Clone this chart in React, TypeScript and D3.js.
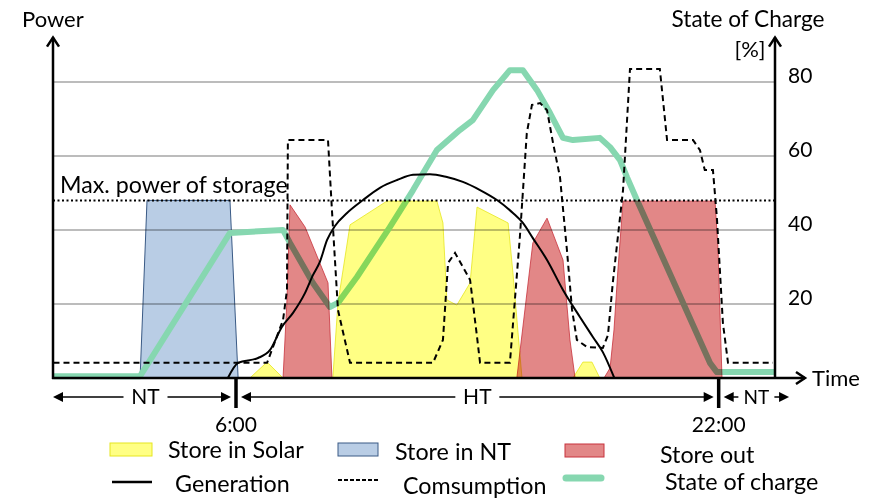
import React from "react";
import * as d3 from "d3";

// ---------- data (x = hour of day, y = power / state-of-charge in %) ----------
const timeTicks = [6, 22];
const timeTickLabels = ["6:00", "22:00"];
const socTicks = [20, 40, 60, 80];
const maxStoragePower = 48;

const periodLabels = ["NT", "HT", "NT"];
const periodStarts = [0, 6, 22];
const periodEnds = [6, 22, 24.5];

const generation: [number, number][] = [
  [5.73, 0], [6.07, 4.1], [6.73, 5.4], [7.13, 7.6], [7.52, 13.8], [7.89, 17.6],
  [8.29, 23.0], [8.55, 27.8], [8.78, 31.4], [9.02, 37.3], [9.28, 41.1], [9.68, 44.6],
  [10.21, 48.1], [10.77, 51.4], [11.34, 53.5], [11.87, 54.9], [12.43, 55.1], [12.99, 54.3],
  [13.52, 53.0], [14.09, 50.8], [14.65, 48.1], [15.18, 44.6], [15.51, 41.9], [15.84, 37.8],
  [16.31, 31.9], [16.84, 23.8], [17.4, 16.5], [17.83, 11.1], [18.16, 7.0], [18.54, 0],
];

const consumption: [number, number][] = [
  [-0.05, 4.1], [7.03, 4.1], [7.56, 15.7], [7.69, 23.8], [7.72, 64.3], [9.05, 64.3],
  [9.18, 45.4], [9.38, 18.4], [9.78, 4.1], [12.53, 4.1], [12.86, 10.3], [13.03, 31.1],
  [13.26, 33.8], [13.76, 26.5], [13.99, 11.1], [14.09, 4.1], [15.08, 4.1], [15.41, 38.1],
  [15.64, 66.2], [15.81, 73.8], [16.08, 74.3], [16.31, 72.4], [16.51, 63.5], [16.74, 54.3],
  [16.97, 34.6], [17.14, 18.4], [17.3, 10.3], [17.63, 8.4], [18.16, 8.1], [18.33, 11.6],
  [18.49, 25.7], [18.83, 50.8], [19.06, 83.5], [20.05, 83.5], [20.29, 64.3], [21.15, 64.3],
  [21.38, 61.6], [21.54, 56.2], [21.81, 56.2], [21.94, 43.5], [22.14, 14.9], [22.31, 4.1],
  [23.8, 4.1],
];

const stateOfCharge: [number, number][] = [
  [-0.05, 0.5], [2.82, 0.5], [5.8, 39.2], [7.56, 40], [7.79, 36.5], [8.55, 25.7],
  [9.11, 19.2], [9.38, 20.3], [10.01, 27.3], [11.1, 40.8], [11.87, 50.8], [12.66, 61.6],
  [13.42, 67.0], [13.85, 69.7], [14.52, 77.8], [15.08, 83.2], [15.51, 83.2], [15.98, 77.8],
  [16.41, 71.6], [16.84, 64.9], [17.17, 64.3], [18.06, 64.9], [18.4, 62.4], [18.73, 58.9],
  [18.96, 54.3], [19.29, 48.1], [21.71, 4.1], [21.94, 1.6], [23.9, 1.6],
];

const storeInNT: [number, number][] = [[2.82, 0], [3.05, 48], [5.8, 48], [6.07, 0]];

const storeInSolar: [number, number][][] = [
  [[6.46, 0], [7.03, 4.3], [7.56, 0]],
  [
    [9.21, 0], [9.38, 20.3], [9.78, 41.4], [11.0, 47.8], [12.66, 47.8], [12.86, 41.9],
    [12.99, 21.1], [13.32, 19.7], [13.76, 25.7], [13.99, 46.2], [15.02, 41.9], [15.18, 28.4],
    [15.35, 12.2], [15.48, 0],
  ],
  [[17.17, 0], [17.5, 4.3], [17.8, 4.3], [18.06, 0]],
];

const storeOut: [number, number][][] = [
  [[7.56, 0], [7.69, 21.1], [7.79, 46.8], [8.29, 40.8], [9.05, 25.7], [9.18, 0]],
  [[15.31, 0], [15.84, 36.5], [16.31, 43.2], [16.84, 31.9], [17.07, 10.3], [17.24, 0]],
  [[18.2, 0], [18.4, 2.7], [18.53, 13.0], [18.66, 29.2], [18.83, 47.8], [21.88, 47.8], [21.98, 34.6], [22.11, 0]],
];

const legendRow1 = ["Store in Solar", "Store in NT", "Store out"];
const legendRow2 = ["Generation", "Comsumption", "State of charge"];

// ---------- layout ----------
const W = 877;
const H = 500;
const FONT = "Lato, 'Open Sans', sans-serif";
const AXIS_L = 53;
const AXIS_R = 775;
const BASE_Y = 378;

const x = d3.scaleLinear().domain([0, 24]).range([55, 779]);
const y = d3.scaleLinear().domain([0, 80]).range([BASE_Y, 82]);

const areaGen = d3
  .area<[number, number]>()
  .x((d) => x(d[0]))
  .y0(y(0))
  .y1((d) => y(d[1]));

const lineLinear = d3
  .line<[number, number]>()
  .x((d) => x(d[0]))
  .y((d) => y(d[1]));

const lineSmooth = d3
  .line<[number, number]>()
  .x((d) => x(d[0]))
  .y((d) => y(d[1]))
  .curve(d3.curveMonotoneX);

const YELLOW = "#ffff84";
const YELLOW_S = "#e6e620";
const RED = "#e28787";
const RED_S = "#c8323c";
const BLUE = "#b9cde5";
const BLUE_S = "#3a5a85";
const GREEN = "#86d7b0";

function ArrowHead({ x0, y0, dir }: { x0: number; y0: number; dir: "l" | "r" }) {
  const s = dir === "r" ? -1 : 1;
  const pts = `${x0},${y0} ${x0 + s * 10},${y0 - 5} ${x0 + s * 10},${y0 + 5}`;
  return <polygon points={pts} fill="#000" />;
}

export default function App() {
  const topVal = 92;
  const periodsY = 397;
  const LF = 23.3;
  return (
    <svg
      width={W}
      height={H}
      style={{ position: "absolute", left: 0, top: 0, background: "#fff" }}
      fontFamily={FONT}
    >
      <rect width={W} height={H} fill="#fff" />
      {/* grid */}
      {socTicks.map((t) => (
        <line key={t} x1={AXIS_L} x2={AXIS_R} y1={y(t)} y2={y(t)} stroke="#a6a6a6" strokeWidth={1.5} />
      ))}
      {/* store in NT */}
      <path d={areaGen(storeInNT) || ""} fill={BLUE} stroke={BLUE_S} strokeWidth={1} style={{ mixBlendMode: "multiply" }} />
      {/* state of charge */}
      <path d={lineLinear(stateOfCharge) || ""} fill="none" stroke={GREEN} strokeWidth={6} strokeLinejoin="round" />
      {/* store in solar */}
      {storeInSolar.map((s, i) => (
        <path key={i} d={areaGen(s) || ""} fill={YELLOW} stroke={YELLOW_S} strokeWidth={0.8} style={{ mixBlendMode: "multiply" }} />
      ))}
      {/* store out */}
      {storeOut.map((s, i) => (
        <path key={i} d={areaGen(s) || ""} fill={RED} stroke={RED_S} strokeWidth={0.8} style={{ mixBlendMode: "multiply" }} />
      ))}
      {/* max power */}
      <line x1={AXIS_L} x2={AXIS_R} y1={y(maxStoragePower)} y2={y(maxStoragePower)} stroke="#000" strokeWidth={2} strokeDasharray="2,2.5" />
      <text x={60} y={193} fontSize={23.2}>Max. power of storage</text>
      {/* generation */}
      <path d={lineSmooth(generation) || ""} fill="none" stroke="#000" strokeWidth={2} />
      {/* consumption */}
      <path d={lineLinear(consumption) || ""} fill="none" stroke="#000" strokeWidth={2} strokeDasharray="6,4" />

      {/* axes */}
      <line x1={AXIS_L} x2={AXIS_L} y1={BASE_Y + 1} y2={y(topVal)} stroke="#000" strokeWidth={2.5} />
      <path d={`M${AXIS_L - 6},${y(topVal) + 9} L${AXIS_L},${y(topVal)} L${AXIS_L + 6},${y(topVal) + 9}`} fill="none" stroke="#000" strokeWidth={2.5} />
      <line x1={AXIS_R} x2={AXIS_R} y1={BASE_Y + 1} y2={y(topVal)} stroke="#000" strokeWidth={2.5} />
      <path d={`M${AXIS_R - 6},${y(topVal) + 9} L${AXIS_R},${y(topVal)} L${AXIS_R + 6},${y(topVal) + 9}`} fill="none" stroke="#000" strokeWidth={2.5} />
      <line x1={AXIS_L - 1} x2={805} y1={BASE_Y} y2={BASE_Y} stroke="#000" strokeWidth={2.5} />
      <path d={`M796,${BASE_Y - 6} L805,${BASE_Y} L796,${BASE_Y + 6}`} fill="none" stroke="#000" strokeWidth={2.5} />

      <text x={22} y={27} fontSize={22}>Power</text>
      <text x={748} y={27} fontSize={22.6} textAnchor="middle">State of Charge</text>
      <text x={750} y={57} fontSize={22} textAnchor="middle">[%]</text>
      <text x={812} y={386} fontSize={22}>Time</text>
      {socTicks.map((t) => (
        <text key={t} x={788} y={y(t) + 1} fontSize={21}>{t}</text>
      ))}

      {/* time ticks */}
      {timeTicks.map((t, i) => (
        <g key={t}>
          <line x1={x(t)} x2={x(t)} y1={BASE_Y} y2={408} stroke="#000" strokeWidth={3.5} />
          <text x={x(t)} y={432} fontSize={21} textAnchor="middle">{timeTickLabels[i]}</text>
        </g>
      ))}

      {/* tariff periods */}
      {periodLabels.map((lab, i) => {
        const a = x(periodStarts[i]) + (i === 0 ? -2 : 5);
        const b = x(periodEnds[i]) - 5;
        const m = x((periodStarts[i] + periodEnds[i]) / 2);
        const half = i === 2 ? 18 : 22;
        const fs = i === 2 ? 19 : 21;
        return (
          <g key={i}>
            <line x1={a + 8} x2={m - half} y1={periodsY} y2={periodsY} stroke="#000" strokeWidth={1.5} />
            <line x1={m + half} x2={b - 8} y1={periodsY} y2={periodsY} stroke="#000" strokeWidth={1.5} />
            <ArrowHead x0={a} y0={periodsY} dir="l" />
            <ArrowHead x0={b} y0={periodsY} dir="r" />
            <text x={m} y={periodsY + 7} fontSize={fs} textAnchor="middle">{lab}</text>
          </g>
        );
      })}

      {/* legend */}
      <rect x={110} y={443} width={42} height={13} fill={YELLOW} stroke={YELLOW_S} strokeWidth={1} />
      <rect x={338} y={443} width={40} height={13} fill={BLUE} stroke={BLUE_S} strokeWidth={1} />
      <rect x={565} y={444} width={39} height={13} fill={RED} stroke={RED_S} strokeWidth={1} />
      <text x={168} y={458} fontSize={LF}>{legendRow1[0]}</text>
      <text x={395} y={460} fontSize={LF}>{legendRow1[1]}</text>
      <text x={660} y={463} fontSize={LF}>{legendRow1[2]}</text>

      <line x1={112} x2={152} y1={482} y2={482} stroke="#000" strokeWidth={2.5} />
      <line x1={338} x2={378} y1={480} y2={480} stroke="#000" strokeWidth={2} strokeDasharray="4,2" />
      <line x1={566} x2={601} y1={478} y2={478} stroke={GREEN} strokeWidth={7} strokeLinecap="round" />
      <text x={175} y={492} fontSize={LF}>{legendRow2[0]}</text>
      <text x={403} y={494} fontSize={LF}>{legendRow2[1]}</text>
      <text x={665} y={490} fontSize={LF}>{legendRow2[2]}</text>
    </svg>
  );
}
